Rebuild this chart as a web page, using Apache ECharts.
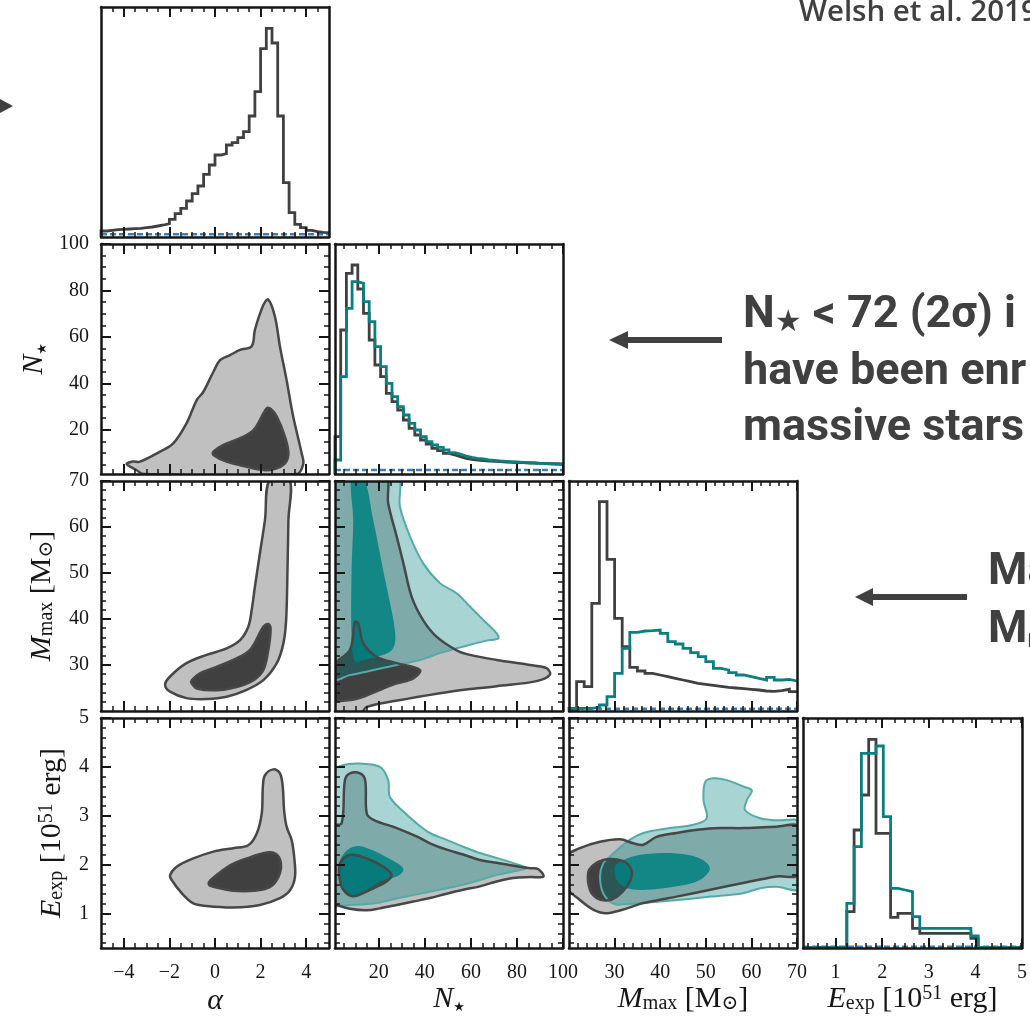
<!DOCTYPE html>
<html>
<head>
<meta charset="utf-8">
<title>Posterior corner plot</title>
<script src="https://cdn.jsdelivr.net/npm/echarts@6.0.0/dist/echarts.min.js"></script>
<style>
  html, body { margin: 0; padding: 0; background: #ffffff; }
  #chart { width: 1030px; height: 1020px; }
</style>
</head>
<body>
<div id="chart"></div>
<script>
// ---------- parameter ranges and tick marks ----------
const alphaRange = [-5, 5];
const nstarRange = [1, 100];
const mmaxRange = [20, 70];
const eexpRange = [0.3, 5];

const alphaTicks = [-4, -2, 0, 2, 4];
const nstarTicks = [20, 40, 60, 80, 100];
const mmaxTicks = [30, 40, 50, 60, 70];
const eexpTicks = [1, 2, 3, 4, 5];

const alphaMinorStep = 0.5;
const nstarMinorStep = 5;
const mmaxMinorStep = 2;
const eexpMinorStep = 0.2;

// ---------- marginal posteriors (binned counts, arbitrary units) ----------
const alphaHistGray = [6, 6.7, 7.3, 7.7, 8, 8.3, 8.7, 9.3, 10, 11, 12, 13.3, 17.7, 23.3, 28.7, 36, 43.3, 51, 62.7, 72,
  82, 83.3, 92, 94.3, 99.3, 105.3, 121, 145.3, 188.3, 208.7, 194, 121, 54.3, 24.3, 12.7, 9.3, 6.7, 5.3, 4.7, 4.3];

const nstarHistGray = [37.3, 144, 200.7, 209, 185, 160.7, 134, 109, 97.3, 80.7, 72.3, 64, 54, 45.7, 39, 34, 30, 25.7, 23.3, 20.7,
  19, 17.3, 15.7, 14.7, 14, 13.3, 13, 12.7, 12.3, 12, 11.7, 11.3, 11.3, 11, 11, 10.7, 10.7, 10.3, 10.3, 10];
const nstarHistTeal = [14, 97.3, 165.7, 192.3, 190.7, 172.3, 152.3, 127.3, 107.3, 90.7, 77.3, 67.3, 59, 50.7, 44, 37.3, 32.3, 29, 26.7, 24,
  21.3, 20, 18, 16.7, 15.7, 15, 14, 13.5, 13, 12.7, 12.3, 12, 11.7, 11.3, 11, 10.7, 10.3, 10, 9.7, 9.3];

const mmaxHistGray = [1, 29.3, 24.3, 107.7, 209.3, 151.7, 92.7, 64.3, 43.7, 40, 37.7, 36, 34.3, 32.7, 31,
  29.3, 27.7, 26.7, 25.7, 24.7, 23.7, 23, 22.3, 21.7, 21, 20, 19.7, 20.3, 21.7, 19.3];
const mmaxHistTeal = [2.7, 2.7, 2.7, 3.7, 6, 14.3, 37.7, 62.7, 78.7, 80, 80.3, 81, 77.7, 69.3, 67,
  62.7, 58.3, 54.3, 49.3, 42.7, 41, 38.3, 36, 34.3, 32.7, 31, 33.7, 31, 31.7, 30];

const eexpHistGray = [0.7, 0.7, 0.7, 0.7, 0.7, 0.7, 36.3, 118, 153, 208.7, 114.7, 114.7, 30.7, 34.7, 34.7,
  19.7, 14.7, 14.7, 14.7, 14.7, 14.7, 14.7, 14.7, 9.7, 0.7, 0.7, 0.7, 0.7, 0.7, 0.7];
const eexpHistTeal = [0.7, 0.7, 0.7, 0.7, 0.7, 0.7, 44.7, 101.3, 194.7, 194.7, 202, 131.3, 59.7, 58, 56.3,
  31.3, 19.7, 19.7, 19.7, 19.7, 19.7, 19.7, 19.7, 12, 0.7, 0.7, 0.7, 0.7, 0.7, 0.7];

const HIST_TOP = 230;

// flat priors
const alphaPrior = 2.7;
const nstarPrior = 4;
const mmaxPrior = 2.3;
const eexpPrior = 1.3;

// ---------- 2D credible regions (outer = 2 sigma, inner = 1 sigma) ----------
const alphaNstarOuter = [[-3.14, 1], [-3.45, 2.7], [-3.87, 5.3], [-3.6, 6.4], [-3.29, 6.3], [-2.41, 10.6], [-1.83, 14.2],
  [-1.25, 22.8], [-0.8, 32.8], [-0.51, 36.4], [-0.07, 45], [0.22, 50], [0.66, 52.2], [1.1, 54.4], [1.61, 56], [1.75, 63],
  [2.12, 73.7], [2.34, 76.1], [2.63, 68.7], [2.85, 55.8], [3.14, 41.4], [3.43, 25.7], [3.8, 9.9], [3.87, 5.3], [3.58, 1]];
const alphaNstarInner = [[-0.07, 10.6], [0.37, 13.5], [1.1, 16.4], [1.69, 19.9], [2.27, 29.3], [2.45, 29], [2.71, 25.7],
  [3.07, 17], [3.22, 9.9], [3.07, 5.6], [2.56, 3], [2.12, 2.7], [1.39, 4.1], [0.51, 6.3], [-0.07, 9.2]];

const alphaMmaxOuter = [[2.41, 70.5], [2.19, 61.5], [1.97, 54.3], [1.75, 47], [1.61, 42], [1.46, 38.3], [1.1, 35.4],
  [0.51, 33.6], [-0.37, 32.2], [-1.25, 30.4], [-1.97, 27.5], [-2.19, 25.7], [-1.97, 24.2], [-1.25, 22.8], [-0.37, 22.6],
  [0.51, 23.1], [1.39, 24.6], [2.12, 26.7], [2.71, 30.4], [3.0, 34.7], [3.12, 39.8], [3.18, 50.7], [3.22, 61.5], [3.26, 70.5]];
const alphaMmaxInner = [[-1.02, 26.7], [-0.66, 28.2], [0.07, 29.6], [0.8, 31.1], [1.54, 33.3], [2.12, 38.3], [2.34, 38.9],
  [2.44, 37.9], [2.34, 33.3], [2.12, 28.9], [1.69, 26.7], [0.95, 25.2], [0.07, 24.5], [-0.8, 24.9], [-1.02, 26]];

const alphaEexpOuter = [[-1.97, 1.79], [-1.68, 1.96], [-0.95, 2.13], [-0.07, 2.27], [0.8, 2.34], [1.46, 2.4], [1.83, 2.64],
  [2.05, 3.05], [2.1, 3.6], [2.19, 3.83], [2.56, 3.95], [2.85, 3.87], [2.97, 3.6], [3.03, 3.12], [3.14, 2.78], [3.36, 2.51],
  [3.47, 2.17], [3.51, 1.76], [3.29, 1.48], [2.85, 1.32], [1.97, 1.18], [0.8, 1.13], [-0.37, 1.16], [-0.95, 1.21],
  [-1.46, 1.42], [-1.9, 1.69]];
const alphaEexpInner = [[-0.26, 1.65], [0.07, 1.79], [0.66, 1.99], [1.39, 2.13], [2.27, 2.25], [2.68, 2.22], [2.89, 2.03],
  [2.79, 1.76], [2.42, 1.55], [1.69, 1.47], [0.8, 1.47], [0.22, 1.52], [-0.24, 1.58]];

const nstarMmaxGrayOuter = [[0, 71], [22.7, 71], [24.1, 65.1], [27.8, 57.9], [30.7, 52.1], [34.3, 44.8], [39.3, 39.7],
  [45.2, 36.1], [53.8, 33.2], [59.6, 32.2], [71.2, 31.1], [85.7, 30], [92.9, 29.3], [94.3, 27.9], [88.5, 26.5], [71.2, 25.4],
  [49.5, 24.1], [30.7, 22.5], [14.8, 20.9], [12.1, 19.5], [0, 19.5]];
const nstarMmaxGrayInner = [[0, 29.6], [7.5, 33.3], [9.7, 39.4], [11.1, 39], [13.3, 34.7], [19.1, 31.8], [27.8, 30.4],
  [37.9, 28.9], [35, 27.1], [27.8, 26], [20.5, 24.6], [13.3, 23.1], [7.5, 22.4], [0, 22.6]];
const nstarMmaxTealOuter = [[0, 71], [27.8, 71], [29.2, 64.4], [33.6, 57.9], [39.3, 52.1], [46.6, 47.8], [53.8, 45.6],
  [59.6, 42.7], [65.4, 39.8], [71.2, 36.9], [71.9, 35.8], [66.8, 35.3], [56.7, 34], [46.6, 32.6], [37.9, 31.1],
  [27.8, 30], [17.7, 28.9], [7.5, 27.8], [0, 27.1]];
const nstarMmaxTealInner = [[8.2, 71], [13.2, 71], [17.6, 61.5], [21.9, 50.6], [25.5, 42], [27, 37.6], [27, 34.7],
  [24.9, 32.9], [19.1, 31.8], [13.3, 31.1], [9.7, 30.7], [8.2, 36.1], [8.2, 50.6], [8.9, 61.5]];

const nstarEexpGrayOuter = [[0, 2.78], [3.9, 2.85], [5.3, 3.73], [7.5, 3.87], [11.9, 3.87], [14.1, 3.73], [14.8, 3.05],
  [17.7, 2.92], [27.8, 2.75], [36.4, 2.58], [42.2, 2.44], [49.5, 2.31], [56.7, 2.21], [63.9, 2.1], [71.2, 2.04],
  [79.9, 1.97], [85.7, 1.93], [89.3, 1.91], [91.5, 1.76], [85.7, 1.75], [78.4, 1.73], [71.2, 1.66], [63.9, 1.56],
  [56.7, 1.49], [49.5, 1.41], [42.2, 1.32], [35, 1.25], [27.8, 1.18], [20.5, 1.11], [14.8, 1.07], [7.5, 1.1],
  [1.7, 1.18], [0, 1.2]];
const nstarEexpGrayInner = [[3.2, 2.03], [7.5, 2.2], [14.8, 2.13], [22, 1.96], [25.6, 1.79], [23.4, 1.66], [16.2, 1.49],
  [8.9, 1.36], [4.6, 1.49], [2.9, 1.76]];
const nstarEexpTealOuter = [[0, 3.9], [4.6, 4.04], [11.9, 4.07], [20.5, 4.0], [24.1, 3.73], [24.8, 3.39], [30, 3.12],
  [36.4, 2.85], [42.2, 2.65], [49.5, 2.51], [56.7, 2.37], [63.9, 2.24], [74.1, 2.1], [81.3, 1.99], [84.2, 1.93],
  [79.9, 1.88], [71.2, 1.79], [63.9, 1.69], [56.7, 1.59], [49.5, 1.52], [42.2, 1.45], [27.8, 1.31], [17.7, 1.21],
  [7.5, 1.18], [0, 1.21]];
const nstarEexpTealInner = [[3.2, 2.1], [7.5, 2.34], [13.3, 2.37], [27.8, 2.04], [30.7, 1.9], [27.8, 1.76], [20.5, 1.66],
  [13.3, 1.43], [7.5, 1.36], [3.9, 1.56], [3.2, 1.83]];

const mmaxEexpGrayOuter = [[19.5, 2.17], [22.4, 2.34], [26.8, 2.47], [31.2, 2.52], [34.1, 2.44], [36.3, 2.41], [39.2, 2.57],
  [43.6, 2.65], [48.7, 2.72], [53.1, 2.75], [58.2, 2.75], [65.5, 2.78], [70.5, 2.77], [70.5, 1.81], [65.5, 1.76],
  [58.2, 1.63], [51, 1.49], [43.6, 1.35], [36.3, 1.22], [32.7, 1.11], [28.3, 1.01], [25.4, 1.08], [22.4, 1.28], [19.5, 1.55]];
const mmaxEexpGrayInner = [[24.2, 1.83], [25.3, 1.99], [27.5, 2.1], [30.5, 2.11], [32.7, 2.03], [33.8, 1.83], [32.7, 1.56],
  [30.5, 1.35], [28.3, 1.27], [26.1, 1.32], [24.6, 1.49]];
const mmaxEexpTealOuter = [[27.5, 2.03], [29, 2.17], [32.7, 2.47], [36.3, 2.65], [42.1, 2.75], [47.3, 2.82], [50.2, 2.95],
  [49.5, 3.32], [49.9, 3.7], [51.7, 3.77], [54.6, 3.73], [58.2, 3.6], [60.1, 3.52], [59, 3.32], [58.6, 3.12], [61.9, 2.95],
  [65.5, 2.91], [70.5, 2.86], [70.5, 1.52], [65.5, 1.55], [61.9, 1.52], [58.2, 1.42], [54.6, 1.38], [51, 1.35],
  [47.3, 1.31], [40, 1.25], [32.7, 1.2], [29.8, 1.2], [27.5, 1.42], [26.8, 1.76]];
const mmaxEexpTealInner = [[30.1, 1.96], [32.7, 2.13], [37.1, 2.22], [43.6, 2.23], [48.7, 2.13], [50.9, 1.93], [48.7, 1.69],
  [43.6, 1.56], [37.1, 1.49], [32.7, 1.52], [30.5, 1.69]];

// ---------- styling ----------
const SERIF = "'Liberation Serif', 'DejaVu Serif', serif";
const SANS = "Roboto, 'Liberation Sans', sans-serif";
const INK = '#161616';
const NOTE = '#404040';
const GRAY_HIST = '#404040';
const TEAL_HIST = '#0b7f80';
const PRIOR_LINE = '#3a7fb8';
const GRAY_FILL_OUT = 'rgba(64,64,64,0.33)';
const GRAY_FILL_IN = '#404040';
const TEAL_FILL_OUT = 'rgba(0,128,128,0.34)';
const TEAL_FILL_IN = 'rgba(0,128,128,0.85)';
const GRAY_EDGE = '#474747';
const TEAL_EDGE = '#55aaa7';

const COL_LEFT = [101, 335, 569, 803];
const ROW_TOP = [7, 244, 481, 718];
const PANEL_W = 228;
const PANEL_H = 230;

const NAME_RICH = {
  i: { fontFamily: SERIF, fontStyle: 'italic', fontSize: 30, color: INK },
  r: { fontFamily: SERIF, fontSize: 30, color: INK },
  sub: { fontFamily: SERIF, fontSize: 20, lineHeight: 14, verticalAlign: 'bottom', color: INK },
  sup: { fontFamily: SERIF, fontSize: 20, lineHeight: 14, verticalAlign: 'top', color: INK },
  star: { fontFamily: "'DejaVu Sans', sans-serif", fontSize: 13, lineHeight: 10, verticalAlign: 'bottom', color: INK }
};

const SPEC = {
  alpha: { range: alphaRange, ticks: alphaTicks, minor: alphaMinorStep, name: '{i|α}', xGap: 38, yGap: 50 },
  nstar: { range: nstarRange, ticks: nstarTicks, minor: nstarMinorStep, name: '{i|N}{star|★}', xGap: 31, yGap: 52 },
  mmax: { range: mmaxRange, ticks: mmaxTicks, minor: mmaxMinorStep, name: '{i|M}{sub|max}{r| [M}{sub|⊙}{r|]}', xGap: 31, yGap: 44 },
  eexp: { range: eexpRange, ticks: eexpTicks, minor: eexpMinorStep, name: '{i|E}{sub|exp}{r| [10}{sup|51}{r| erg]}', xGap: 31, yGap: 34 }
};
const HIST_SPEC = { range: [0, HIST_TOP], ticks: null, minor: null };

function minorValues(spec) {
  const out = [];
  const lo = spec.range[0], hi = spec.range[1], st = spec.minor;
  for (let k = Math.ceil(lo / st - 1e-9); k * st <= hi + 1e-9; k++) {
    const v = +(k * st).toFixed(6);
    if (v <= lo + 1e-9 || v >= hi - 1e-9) continue;
    if (spec.ticks.some(t => Math.abs(t - v) < 1e-9)) continue;
    out.push(v);
  }
  return out;
}

const fmt = v => String(+v.toFixed(4)).replace('-', '\u2212');

function baseAxis(gridIndex, position, spec) {
  return {
    type: 'value', gridIndex, position, min: spec.range[0], max: spec.range[1],
    z: 10, silent: true, splitLine: { show: false }, splitArea: { show: false }
  };
}

function mainAxis(gridIndex, position, spec, showLabels, showName, isY) {
  const a = baseAxis(gridIndex, position, spec);
  a.axisLine = { show: true, onZero: false, lineStyle: { color: INK, width: 2.5 } };
  if (spec.ticks) {
    a.axisTick = { show: true, inside: true, length: 10, customValues: spec.ticks, lineStyle: { color: INK, width: 2 } };
    a.axisLabel = {
      show: showLabels, customValues: spec.ticks, formatter: fmt, fontFamily: SERIF,
      fontSize: 20, color: INK, margin: isY ? 12 : 15
    };
  } else {
    a.axisTick = { show: false };
    a.axisLabel = { show: false };
  }
  if (showName) {
    a.name = spec.name;
    a.nameLocation = 'middle';
    a.nameGap = isY ? spec.yGap : spec.xGap;
    a.nameTextStyle = { rich: NAME_RICH, color: INK };
  }
  return a;
}

function minorAxis(gridIndex, position, spec) {
  const a = baseAxis(gridIndex, position, spec);
  a.axisLine = { show: false, onZero: false };
  a.axisLabel = { show: false };
  if (spec.minor) {
    a.axisTick = { show: true, inside: true, length: 5, customValues: minorValues(spec), lineStyle: { color: INK, width: 1.5 } };
  } else {
    a.axisTick = { show: false };
  }
  return a;
}

function histPoints(range, values) {
  const n = values.length;
  const w = (range[1] - range[0]) / n;
  const pts = [[range[0], 0]];
  values.forEach((v, i) => pts.push([range[0] + i * w, v]));
  pts.push([range[1], values[n - 1]]);
  return pts;
}

const panels = [
  { row: 0, col: 0, x: 'alpha', hist: [[alphaHistGray, GRAY_HIST]], prior: alphaPrior },
  { row: 1, col: 0, x: 'alpha', y: 'nstar', gray: [alphaNstarOuter, alphaNstarInner] },
  { row: 1, col: 1, x: 'nstar', hist: [[nstarHistGray, GRAY_HIST], [nstarHistTeal, TEAL_HIST]], prior: nstarPrior },
  { row: 2, col: 0, x: 'alpha', y: 'mmax', gray: [alphaMmaxOuter, alphaMmaxInner] },
  { row: 2, col: 1, x: 'nstar', y: 'mmax', gray: [nstarMmaxGrayOuter, nstarMmaxGrayInner], teal: [nstarMmaxTealOuter, nstarMmaxTealInner] },
  { row: 2, col: 2, x: 'mmax', hist: [[mmaxHistGray, GRAY_HIST], [mmaxHistTeal, TEAL_HIST]], prior: mmaxPrior },
  { row: 3, col: 0, x: 'alpha', y: 'eexp', gray: [alphaEexpOuter, alphaEexpInner] },
  { row: 3, col: 1, x: 'nstar', y: 'eexp', gray: [nstarEexpGrayOuter, nstarEexpGrayInner], teal: [nstarEexpTealOuter, nstarEexpTealInner] },
  { row: 3, col: 2, x: 'mmax', y: 'eexp', gray: [mmaxEexpGrayOuter, mmaxEexpGrayInner], teal: [mmaxEexpTealOuter, mmaxEexpTealInner] },
  { row: 3, col: 3, x: 'eexp', hist: [[eexpHistGray, GRAY_HIST], [eexpHistTeal, TEAL_HIST]], prior: eexpPrior }
];

const grids = [], xAxes = [], yAxes = [], series = [];

panels.forEach(p => {
  const rect = { left: COL_LEFT[p.col], top: ROW_TOP[p.row], width: PANEL_W, height: PANEL_H, containLabel: false };
  const gMain = grids.push(Object.assign({}, rect)) - 1;
  const gMinor = grids.push(Object.assign({}, rect)) - 1;
  const xs = SPEC[p.x];
  const ys = p.y ? SPEC[p.y] : HIST_SPEC;
  const bottomRow = p.row === 3;
  const leftCol = p.col === 0 && !!p.y;

  const xi = xAxes.push(mainAxis(gMain, 'bottom', xs, bottomRow, bottomRow, false)) - 1;
  xAxes.push(mainAxis(gMain, 'top', xs, false, false, false));
  xAxes.push(minorAxis(gMinor, 'bottom', xs));
  xAxes.push(minorAxis(gMinor, 'top', xs));

  const yi = yAxes.push(mainAxis(gMain, 'left', ys, leftCol, leftCol, true)) - 1;
  yAxes.push(mainAxis(gMain, 'right', ys, false, false, true));
  yAxes.push(minorAxis(gMinor, 'left', ys));
  yAxes.push(minorAxis(gMinor, 'right', ys));

  if (p.hist) {
    series.push({
      type: 'line', xAxisIndex: xi, yAxisIndex: yi, silent: true, symbol: 'none', clip: true,
      data: [[xs.range[0], p.prior], [xs.range[1], p.prior]],
      lineStyle: { color: PRIOR_LINE, width: 2.4, type: [6, 3] }, z: 2
    });
    p.hist.forEach(([vals, color]) => {
      series.push({
        type: 'line', xAxisIndex: xi, yAxisIndex: yi, silent: true, symbol: 'none', step: 'end', clip: true,
        data: histPoints(xs.range, vals), lineStyle: { color, width: 2.8, join: 'miter' }, z: 3
      });
    });
  } else {
    const layers = [];
    const [gOut, gIn] = p.gray;
    layers.push({ pts: gOut, fill: GRAY_FILL_OUT });
    layers.push({ pts: gIn, fill: GRAY_FILL_IN });
    if (p.teal) {
      const [tOut, tIn] = p.teal;
      layers.push({ pts: tOut, fill: TEAL_FILL_OUT });
      layers.push({ pts: tIn, fill: TEAL_FILL_IN });
      layers.push({ pts: tOut, stroke: TEAL_EDGE, lw: 2 });
    }
    layers.push({ pts: gOut, stroke: GRAY_EDGE, lw: 2.5 });
    layers.push({ pts: gIn, stroke: GRAY_EDGE, lw: 2.5 });
    series.push({
      type: 'custom', xAxisIndex: xi, yAxisIndex: yi, silent: true, clip: true, z: 2,
      data: [[xs.range[0], ys.range[0]]],
      renderItem: (params, api) => ({
        type: 'group',
        children: layers.map(l => ({
          type: 'polygon',
          shape: { points: l.pts.map(pt => api.coord(pt)), smooth: 0.35 },
          style: { fill: l.fill || 'none', stroke: l.stroke || 'none', lineWidth: l.lw || 0, lineJoin: 'round' }
        }))
      })
    });
  }
});

// ---------- annotations ----------
const NOTE_FONT = 45;
const noteRich = {
  b: { fontFamily: SANS, fontWeight: 'bold', fontSize: NOTE_FONT, color: NOTE },
  s: { fontFamily: "'DejaVu Sans', sans-serif", fontSize: 30, lineHeight: 14, verticalAlign: 'bottom', color: NOTE },
  m: { fontFamily: SANS, fontWeight: 'bold', fontSize: 26, lineHeight: 16, verticalAlign: 'bottom', color: NOTE }
};
function noteText(x, baseline, text) {
  return {
    type: 'text', x, y: baseline - 0.31 * NOTE_FONT, z: 20, silent: true,
    style: { text, rich: noteRich, verticalAlign: 'middle', fill: NOTE }
  };
}

const graphic = [
  { type: 'polygon', z: 20, silent: true, shape: { points: [[0, 99], [13, 106], [0, 113]] }, style: { fill: NOTE } },
  { type: 'rect', z: 20, silent: true, shape: { x: 624, y: 337, width: 98, height: 6 }, style: { fill: NOTE } },
  { type: 'polygon', z: 20, silent: true, shape: { points: [[609, 340], [628, 331], [628, 349]] }, style: { fill: NOTE } },
  { type: 'rect', z: 20, silent: true, shape: { x: 870, y: 594, width: 97, height: 6 }, style: { fill: NOTE } },
  { type: 'polygon', z: 20, silent: true, shape: { points: [[855, 597], [873, 588], [873, 606]] }, style: { fill: NOTE } },
  {
    type: 'text', x: 799, y: 13, z: 20, silent: true,
    style: { text: 'Welsh et al. 2019', fontFamily: "'Open Sans', Roboto, sans-serif", fontSize: 29.5, fontWeight: 600, fill: NOTE, verticalAlign: 'middle' }
  },
  noteText(743, 330, '{b|N}{s|★}{b| < 72 (2σ) i}'),
  noteText(743, 387, '{b|have been enr}'),
  noteText(743, 443, '{b|massive stars}'),
  noteText(988, 587, '{b|Ma}'),
  noteText(988, 645, '{b|M}{m|m}')
];

const chart = echarts.init(document.getElementById('chart'), null, { renderer: 'canvas' });
chart.setOption({
  animation: false,
  backgroundColor: '#ffffff',
  grid: grids,
  xAxis: xAxes,
  yAxis: yAxes,
  series,
  graphic
});
</script>
</body>
</html>
